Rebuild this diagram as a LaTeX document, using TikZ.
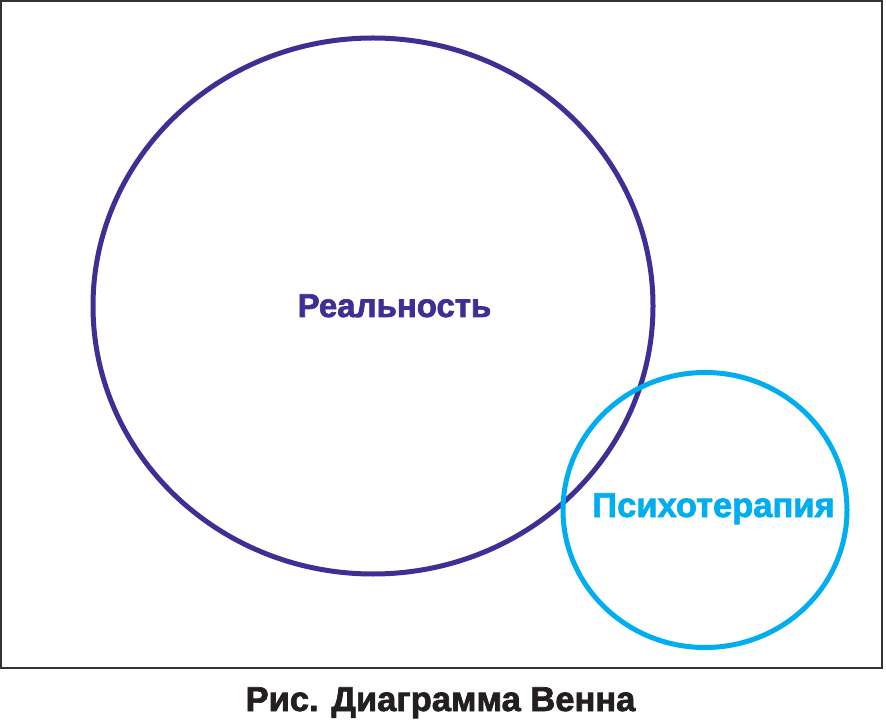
\documentclass[tikz,border=0pt]{standalone}
\usepackage{fontspec}
\setmainfont{Liberation Sans}[BoldFont={Liberation Sans Bold}, BoldFeatures={FakeBold=2}]
\definecolor{realcol}{HTML}{3F2E93}
\definecolor{psycol}{HTML}{00AEEF}
\definecolor{framecol}{HTML}{333333}
\definecolor{capcol}{HTML}{231F20}
\begin{document}
\begin{tikzpicture}[
    x=1pt, y=1pt,
    frame/.style={draw=framecol, line width=1.5pt},
    bigset/.style={draw=realcol, line width=5pt},
    smallset/.style={draw=psycol, line width=5pt},
    setlabel/.style={anchor=base, font=\fontsize{33}{36}\selectfont\bfseries},
    caption/.style={anchor=base, font=\fontsize{34.5}{38}\selectfont\bfseries, text=capcol}
]
\useasboundingbox (0,0) rectangle (886,721);

% Frame
\draw[frame] (1,53) rectangle (882,720);

% Sets
\draw[bigset] (373,415) ellipse [x radius=280, y radius=268];
\draw[smallset] (705,211) ellipse [x radius=142, y radius=137.5];

% Labels
\node[setlabel, text=realcol] (real) at (394.5,404) {Реальность};
\node[setlabel, text=psycol, font=\fontsize{34.5}{38}\selectfont\bfseries] (psy) at (713.5,204) {Психотерапия};

% Caption
\node[caption] (cap) at (440.5,10) {Рис. Диаграмма Венна};

\end{tikzpicture}
\end{document}
